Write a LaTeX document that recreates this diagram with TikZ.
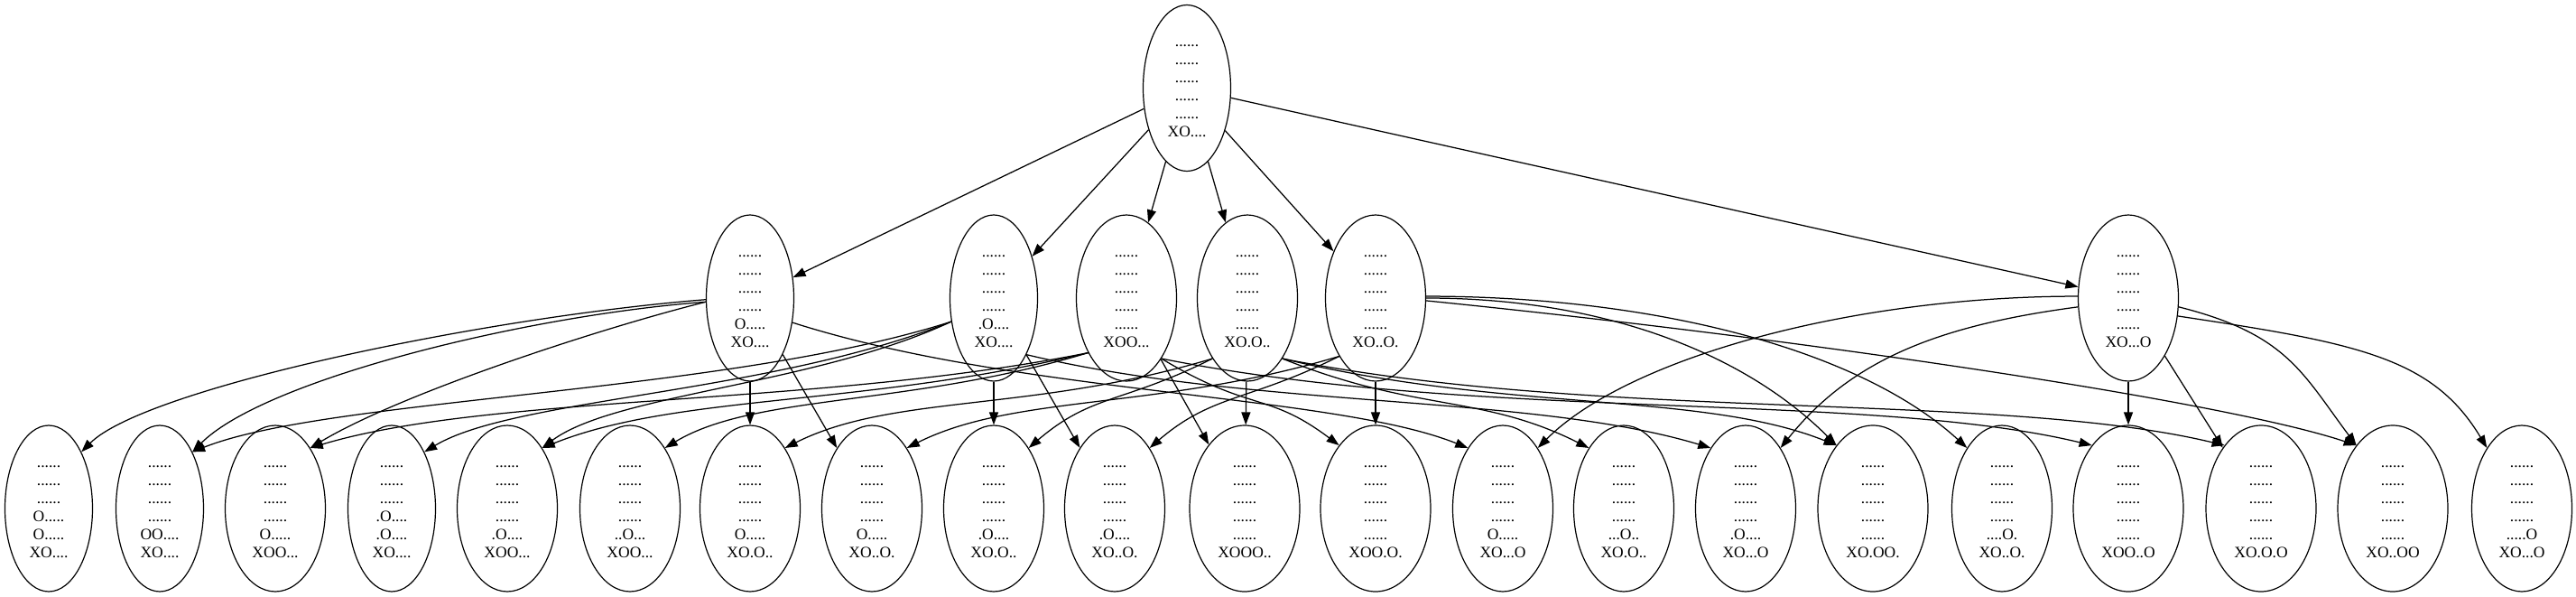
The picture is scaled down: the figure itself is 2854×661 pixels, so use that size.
\documentclass[tikz,border=0pt]{standalone}
\usepackage{fontspec}
\setmainfont{Liberation Serif}
\usetikzlibrary{shapes.geometric,arrows.meta}
\newcommand{\bd}[6]{\strut#1\\#2\\#3\\#4\\#5\\#6\strut}
\newcommand{\ce}[6]{\draw[edge] (#1.#2) .. controls +(#3) and +(#4) .. (#5.#6);}
\tikzset{
  st/.style={ellipse, draw, line width=1.2pt, inner sep=0pt, minimum height=184pt,
    align=center, font=\fontsize{17.5}{20}\selectfont},
  wa/.style={minimum width=97pt},
  wb/.style={minimum width=111pt},
  wc/.style={minimum width=122pt},
  edge/.style={line width=1.25pt, -{Triangle[length=14pt,width=10pt]}}
}
\begin{document}
\begin{tikzpicture}[x=1pt,y=-1pt]
\useasboundingbox (0,0) rectangle (2854,661);
% root
\node[st,wa] (r) at (1315,97.5) {\bd{......}{......}{......}{......}{......}{XO....}};
% middle
\node[st,wa] (a) at (831,330) {\bd{......}{......}{......}{......}{O.....}{XO....}};
\node[st,wa] (b) at (1101,330) {\bd{......}{......}{......}{......}{.O....}{XO....}};
\node[st,wb] (c) at (1248,330) {\bd{......}{......}{......}{......}{......}{XOO...}};
\node[st,wb] (d) at (1382,330) {\bd{......}{......}{......}{......}{......}{XO.O..}};
\node[st,wb] (e) at (1524,330) {\bd{......}{......}{......}{......}{......}{XO..O.}};
\node[st,wb] (f) at (2358,330) {\bd{......}{......}{......}{......}{......}{XO...O}};
% leaves
\node[st,wa] (l1) at (54,563) {\bd{......}{......}{......}{O.....}{O.....}{XO....}};
\node[st,wa] (l2) at (177,563) {\bd{......}{......}{......}{......}{OO....}{XO....}};
\node[st,wb] (l3) at (305,563) {\bd{......}{......}{......}{......}{O.....}{XOO...}};
\node[st,wa] (l4) at (434,563) {\bd{......}{......}{......}{.O....}{.O....}{XO....}};
\node[st,wb] (l5) at (562,563) {\bd{......}{......}{......}{......}{.O....}{XOO...}};
\node[st,wb] (l6) at (698,563) {\bd{......}{......}{......}{......}{..O...}{XOO...}};
\node[st,wb] (l7) at (831,563) {\bd{......}{......}{......}{......}{O.....}{XO.O..}};
\node[st,wb] (l8) at (966,563) {\bd{......}{......}{......}{......}{O.....}{XO..O.}};
\node[st,wb] (l9) at (1101,563) {\bd{......}{......}{......}{......}{.O....}{XO.O..}};
\node[st,wb] (l10) at (1235,563) {\bd{......}{......}{......}{......}{.O....}{XO..O.}};
\node[st,wc] (l11) at (1379,563) {\bd{......}{......}{......}{......}{......}{XOOO..}};
\node[st,wc] (l12) at (1524,563) {\bd{......}{......}{......}{......}{......}{XOO.O.}};
\node[st,wb] (l13) at (1665,563) {\bd{......}{......}{......}{......}{O.....}{XO...O}};
\node[st,wb] (l14) at (1799,563) {\bd{......}{......}{......}{......}{...O..}{XO.O..}};
\node[st,wb] (l15) at (1934,563) {\bd{......}{......}{......}{......}{.O....}{XO...O}};
\node[st,wc] (l16) at (2075,563) {\bd{......}{......}{......}{......}{......}{XO.OO.}};
\node[st,wb] (l17) at (2218,563) {\bd{......}{......}{......}{......}{....O.}{XO..O.}};
\node[st,wc] (l18) at (2358,563) {\bd{......}{......}{......}{......}{......}{XOO..O}};
\node[st,wc] (l19) at (2505,563) {\bd{......}{......}{......}{......}{......}{XO.O.O}};
\node[st,wc] (l20) at (2651,563) {\bd{......}{......}{......}{......}{......}{XO..OO}};
\node[st,wb] (l21) at (2794,563) {\bd{......}{......}{......}{......}{.....O}{XO...O}};
% root edges
\foreach \m in {a,b,c,d,e,f} \draw[edge] (r) -- (\m);
% A
\ce{a}{182}{-250,20}{70,-70}{l1}{60}
\ce{a}{185}{-200,15}{80,-80}{l2}{60}
\ce{a}{185}{-120,30}{100,-60}{l3}{60}
\draw[edge] (a) -- (l7);
\draw[edge] (a) -- (l8);
\ce{a}{-30}{250,80}{-150,-60}{l13}{120}
% B
\ce{b}{209}{-250,80}{150,-60}{l2}{60}
\ce{b}{209}{-200,80}{100,-60}{l4}{60}
\ce{b}{209}{-150,70}{80,-60}{l5}{60}
\draw[edge] (b) -- (l9);
\draw[edge] (b) -- (l10);
\ce{b}{300}{250,60}{-200,-60}{l15}{120}
% C
\ce{c}{235}{-300,60}{200,-60}{l3}{60}
\ce{c}{235}{-250,60}{150,-60}{l5}{60}
\ce{c}{235}{-200,60}{100,-60}{l6}{60}
\draw[edge] (c) -- (l11);
\ce{c}{300}{100,60}{-80,-60}{l12}{120}
\ce{c}{300}{350,70}{-250,-60}{l18}{120}
% D
\ce{d}{240}{-200,60}{120,-60}{l7}{60}
\ce{d}{240}{-100,50}{70,-60}{l9}{60}
\draw[edge] (d) -- (l11);
\ce{d}{300}{150,60}{-120,-60}{l14}{120}
\ce{d}{300}{250,60}{-150,-60}{l16}{120}
\ce{d}{300}{350,70}{-250,-60}{l19}{120}
% E
\ce{e}{238}{-200,60}{120,-60}{l8}{60}
\ce{e}{238}{-100,50}{70,-60}{l10}{60}
\draw[edge] (e) -- (l12);
\ce{e}{0}{200,0}{-100,-100}{l16}{120}
\ce{e}{2}{250,0}{-120,-110}{l17}{120}
\ce{e}{-3}{400,40}{-150,-50}{l20}{120}
% F
\ce{f}{178}{-250,0}{100,-100}{l13}{60}
\ce{f}{190}{-150,20}{80,-100}{l15}{60}
\draw[edge] (f) -- (l18);
\draw[edge] (f) -- (l19);
\ce{f}{-10}{120,30}{-60,-80}{l20}{120}
\ce{f}{-20}{200,30}{-60,-100}{l21}{120}
\end{tikzpicture}
\end{document}
